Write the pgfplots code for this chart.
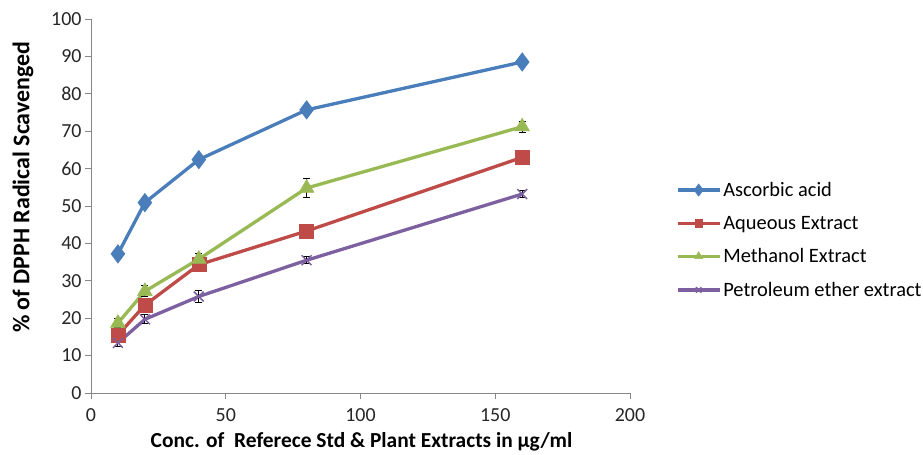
\documentclass[border=0pt]{standalone}
\usepackage{fontspec}
\setmainfont{Carlito}
\usepackage{pgfplots}
\pgfplotsset{compat=1.18}
\definecolor{cAsc}{HTML}{4A7EBB}
\definecolor{cAq}{HTML}{BE4B48}
\definecolor{cMe}{HTML}{98B954}
\definecolor{cPe}{HTML}{7D60A0}
\definecolor{axisgray}{HTML}{868686}

\begin{document}
\begin{tikzpicture}[x=1bp,y=1bp]
\useasboundingbox (-91,-62) rectangle (832,393);
\begin{axis}[
  at={(0,0)}, anchor=south west,
  width=539bp, height=374bp, scale only axis,
  xmin=0, xmax=200, ymin=0, ymax=100,
  xtick={0,50,...,200}, ytick={0,10,...,100},
  axis x line*=bottom, axis y line*=left,
  axis line style={axisgray, line width=0.8bp, -},
  tick style={axisgray, line width=0.8bp},
  tick align=outside, major tick length=6bp,
  ticklabel style={font=\fontsize{20}{23}\selectfont, text=black!85},
  xticklabel style={yshift=-6bp},
  /pgf/number format/assume math mode=true,
  xlabel={Conc. of\ \ Referece Std \& Plant Extracts in µg/ml},
  ylabel={\% of DPPH Radical Scavenged},
  xlabel style={font=\bfseries\fontsize{21.5}{24}\selectfont, at={(axis description cs:0.502,-0.146)}, anchor=base},
  ylabel style={font=\bfseries\fontsize{24}{28}\selectfont, at={(axis description cs:-0.126,0.55)}, anchor=center},
  legend style={at={(axis description cs:1.085,0.409)}, anchor=west, draw=none, fill=none,
    font=\fontsize{20.5}{23}\selectfont, row sep=14bp, inner sep=0pt},
  legend cell align=left,
  legend image code/.code={\draw[mark repeat=2,mark phase=2,#1, every mark/.append style={scale=0.55}] plot coordinates {(0bp,0bp) (21bp,0bp) (42bp,0bp)};},
  error bars/error bar style={black, line width=1bp, solid},
  error bars/error mark options={rotate=90, mark size=3.5bp, black, line width=1bp},
]
\addplot[cAsc, line width=3.3bp, mark=diamond*, mark size=7bp, mark options={solid, fill=cAsc, draw=cAsc},
  error bars/.cd, y dir=both, y explicit]
  coordinates {(10,37.2) +- (0,1.0) (20,50.9) +- (0,1.2) (40,62.4) +- (0,1.0) (80,75.7) +- (0,1.0) (160,88.5) +- (0,1.2)};
\addplot[cAq, line width=3.3bp, mark=square*, mark size=7bp, mark options={solid, fill=cAq, draw=cAq, line width=0.5bp},
  error bars/.cd, y dir=both, y explicit]
  coordinates {(10,15.5) +- (0,1.0) (20,23.5) +- (0,1.5) (40,34.3) +- (0,1.5) (80,43.3) +- (0,1.0) (160,63.0) +- (0,1.0)};
\addplot[cMe, line width=3.3bp, mark=triangle*, mark size=8.5bp, mark options={solid, fill=cMe, draw=cMe, line width=0.5bp},
  error bars/.cd, y dir=both, y explicit]
  coordinates {(10,18.7) +- (0,1.2) (20,27.2) +- (0,1.5) (40,35.8) +- (0,1.5) (80,54.8) +- (0,2.5) (160,71.2) +- (0,1.5)};
\addplot[cPe, line width=3.3bp, mark=x, mark size=7bp, mark options={solid, draw=cPe, line width=1.5bp},
  error bars/.cd, y dir=both, y explicit]
  coordinates {(10,13.4) +- (0,1.0) (20,19.7) +- (0,1.2) (40,25.8) +- (0,1.7) (80,35.5) +- (0,1.0) (160,53.2) +- (0,1.0)};
\legend{Ascorbic acid, Aqueous Extract, Methanol Extract, Petroleum ether extract}
\end{axis}
\end{tikzpicture}
\end{document}
